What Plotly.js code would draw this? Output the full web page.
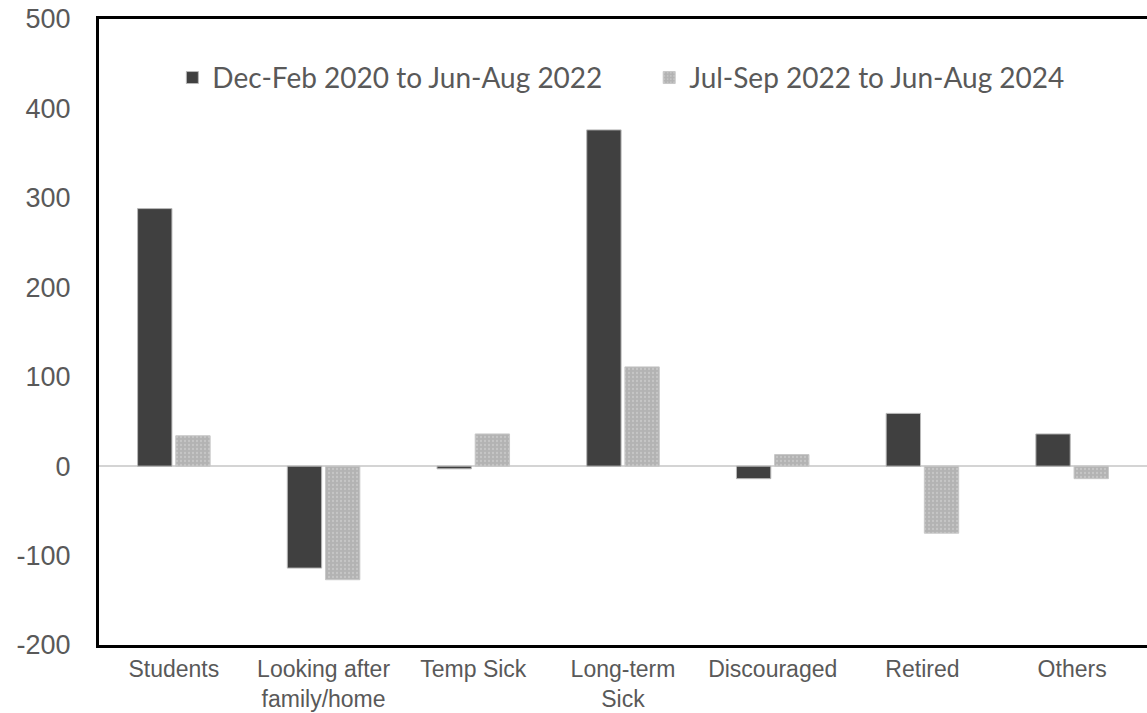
<!DOCTYPE html>
<html>
<head>
<meta charset="utf-8">
<script src="https://cdn.plot.ly/plotly-3.0.1.min.js"></script>
<style>html,body{margin:0;padding:0;background:#fff;}#chart{width:1147px;height:713px;}</style>
</head>
<body>
<div id="chart"></div>
<script>
const categories = ["Students", "Looking after<br>family/home", "Temp Sick", "Long-term<br>Sick", "Discouraged", "Retired", "Others"];
const seriesNames = ["Dec-Feb 2020 to Jun-Aug 2022", "Jul-Sep 2022 to Jun-Aug 2024"];
const period1 = [288, -114, -3, 376, -14, 59, 36];
const period2 = [34, -127, 36, 111, 13, -75, -14];
const yTicks = [-200, -100, 0, 100, 200, 300, 400, 500];

const traces = [
  {
    type: "bar", name: seriesNames[0], x: categories, y: period1, legend: "legend",
    marker: {color: "#404040", line: {color: "#b8b8b8", width: 1}},
    hoverinfo: "x+y"
  },
  {
    type: "bar", name: seriesNames[1], x: categories, y: period2, legend: "legend2",
    marker: {color: "#b3b3b3", line: {color: "#c8c8c8", width: 1},
      pattern: {shape: ".", bgcolor: "#b3b3b3", fgcolor: "#c6c6c6", size: 4, solidity: 0.25}},
    hoverinfo: "x+y"
  }
];

const legendFont = {family: "Lato, Open Sans, sans-serif", size: 28, color: "#595959"};

const layout = {
  width: 1147, height: 713,
  margin: {l: 99, r: 0, t: 19, b: 68, pad: 0},
  paper_bgcolor: "#ffffff", plot_bgcolor: "#ffffff",
  barmode: "group", bargap: 0.49, bargroupgap: 0.1,
  font: {family: "Liberation Sans, Arial, sans-serif", color: "#595959", size: 22},
  showlegend: true,
  legend: {
    orientation: "h", x: 0.07, xanchor: "left", y: 0.906, yanchor: "middle",
    font: legendFont, bgcolor: "rgba(0,0,0,0)", itemwidth: 30
  },
  legend2: {
    orientation: "h", x: 0.525, xanchor: "left", y: 0.906, yanchor: "middle",
    font: legendFont, bgcolor: "rgba(0,0,0,0)", itemwidth: 30
  },
  xaxis: {
    type: "category", showgrid: false, zeroline: false,
    showline: true, linecolor: "#000000", linewidth: 3, mirror: true,
    ticks: "", tickfont: {size: 23, color: "#595959"}, ticklabelstandoff: 1, fixedrange: true
  },
  yaxis: {
    range: [-200, 500], tickvals: yTicks, ticktext: yTicks.map(String),
    showgrid: false, zeroline: true, zerolinecolor: "#d4d4d4", zerolinewidth: 2,
    showline: true, linecolor: "#000000", linewidth: 3, ticks: "", ticklen: 0,
    ticklabelstandoff: 20,
    tickfont: {size: 27, color: "#595959"}, automargin: false, fixedrange: true
  }
};

Plotly.newPlot("chart", traces, layout, {displayModeBar: false, staticPlot: true});
</script>
</body>
</html>
